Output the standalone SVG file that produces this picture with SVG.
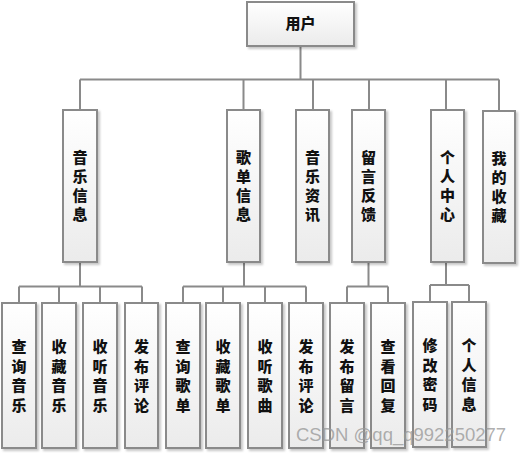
<svg xmlns="http://www.w3.org/2000/svg" width="521" height="453" viewBox="0 0 521 453">
<defs>
<linearGradient id="g" x1="0" y1="0" x2="0" y2="1">
<stop offset="0" stop-color="#ffffff"/>
<stop offset="1" stop-color="#ebebeb"/>
</linearGradient>
<filter id="sh" x="-20%" y="-20%" width="150%" height="150%">
<feDropShadow dx="2" dy="2" stdDeviation="1" flood-color="#000" flood-opacity="0.22"/>
</filter>
</defs>
<style>
.box{fill:url(#g);stroke:#8a8a8a;stroke-width:2;filter:url(#sh)}
.t{font-family:"Noto Sans CJK SC","Noto Sans CJK TC",sans-serif;font-weight:900;font-size:15px;fill:#111;text-anchor:middle}
.c{fill:none;stroke:#8a8a8a;stroke-width:2}
.wm{font-family:"Liberation Sans",Arial,sans-serif;font-size:18.5px;fill:#9a9a9a;fill-opacity:0.8}
</style>
<rect width="521" height="453" fill="#fff"/>
<g id="connectors" class="c">
<path d="M300.5 46V79.5M80 79.5H499M80 79.5V110M243.5 79.5V110M313 79.5V110M369 79.5V110M446 79.5V110M499 79.5V110"/>
<path d="M80 262V286.5M19 286.5H142M19 286.5V303M59 286.5V303M100 286.5V303M142 286.5V303"/>
<path d="M244 262V286.5M183 286.5H306M183 286.5V303M223 286.5V303M265 286.5V303M306 286.5V303"/>
<path d="M368.5 262V286.5M347 286.5H388M347 286.5V303M388 286.5V303"/>
<path d="M446 262V285M430 285H469M430 285V302M469 285V302"/>
</g>
<g id="root"><rect class="box" x="247" y="2" width="107" height="44"/><text class="t" x="300.5" y="29">用户</text></g>
<g id="n1"><rect class="box" x="63" y="110" width="34" height="152"/><text class="t"><tspan x="80" y="162.5">音</tspan><tspan x="80" dy="19.3">乐</tspan><tspan x="80" dy="19.3">信</tspan><tspan x="80" dy="19.3">息</tspan></text></g>
<g id="n2"><rect class="box" x="227" y="110" width="33" height="152"/><text class="t"><tspan x="243.5" y="162.5">歌</tspan><tspan x="243.5" dy="19.3">单</tspan><tspan x="243.5" dy="19.3">信</tspan><tspan x="243.5" dy="19.3">息</tspan></text></g>
<g id="n3"><rect class="box" x="296" y="110" width="33" height="152"/><text class="t"><tspan x="312.5" y="162.5">音</tspan><tspan x="312.5" dy="19.3">乐</tspan><tspan x="312.5" dy="19.3">资</tspan><tspan x="312.5" dy="19.3">讯</tspan></text></g>
<g id="n4"><rect class="box" x="352" y="110" width="33" height="152"/><text class="t"><tspan x="368.5" y="162.5">留</tspan><tspan x="368.5" dy="19.3">言</tspan><tspan x="368.5" dy="19.3">反</tspan><tspan x="368.5" dy="19.3">馈</tspan></text></g>
<g id="n5"><rect class="box" x="431" y="110" width="33" height="152"/><text class="t"><tspan x="447.5" y="162.5">个</tspan><tspan x="447.5" dy="19.3">人</tspan><tspan x="447.5" dy="19.3">中</tspan><tspan x="447.5" dy="19.3">心</tspan></text></g>
<g id="n6"><rect class="box" x="483" y="111" width="32" height="152"/><text class="t"><tspan x="499" y="163.5">我</tspan><tspan x="499" dy="19.3">的</tspan><tspan x="499" dy="19.3">收</tspan><tspan x="499" dy="19.3">藏</tspan></text></g>
<g id="m1"><rect class="box" x="2" y="303" width="34" height="145"/><text class="t"><tspan x="19" y="352">查</tspan><tspan x="19" dy="19.5">询</tspan><tspan x="19" dy="19.5">音</tspan><tspan x="19" dy="19.5">乐</tspan></text></g>
<g id="m2"><rect class="box" x="42" y="303" width="34" height="145"/><text class="t"><tspan x="59" y="352">收</tspan><tspan x="59" dy="19.5">藏</tspan><tspan x="59" dy="19.5">音</tspan><tspan x="59" dy="19.5">乐</tspan></text></g>
<g id="m3"><rect class="box" x="83" y="303" width="34" height="145"/><text class="t"><tspan x="100" y="352">收</tspan><tspan x="100" dy="19.5">听</tspan><tspan x="100" dy="19.5">音</tspan><tspan x="100" dy="19.5">乐</tspan></text></g>
<g id="m4"><rect class="box" x="125" y="303" width="33" height="145"/><text class="t"><tspan x="141.5" y="352">发</tspan><tspan x="141.5" dy="19.5">布</tspan><tspan x="141.5" dy="19.5">评</tspan><tspan x="141.5" dy="19.5">论</tspan></text></g>
<g id="m5"><rect class="box" x="166" y="303" width="34" height="145"/><text class="t"><tspan x="183" y="352">查</tspan><tspan x="183" dy="19.5">询</tspan><tspan x="183" dy="19.5">歌</tspan><tspan x="183" dy="19.5">单</tspan></text></g>
<g id="m6"><rect class="box" x="206" y="303" width="34" height="145"/><text class="t"><tspan x="223" y="352">收</tspan><tspan x="223" dy="19.5">藏</tspan><tspan x="223" dy="19.5">歌</tspan><tspan x="223" dy="19.5">单</tspan></text></g>
<g id="m7"><rect class="box" x="248" y="303" width="34" height="145"/><text class="t"><tspan x="265" y="352">收</tspan><tspan x="265" dy="19.5">听</tspan><tspan x="265" dy="19.5">歌</tspan><tspan x="265" dy="19.5">曲</tspan></text></g>
<g id="m8"><rect class="box" x="289" y="303" width="34" height="145"/><text class="t"><tspan x="306" y="352">发</tspan><tspan x="306" dy="19.5">布</tspan><tspan x="306" dy="19.5">评</tspan><tspan x="306" dy="19.5">论</tspan></text></g>
<g id="m9"><rect class="box" x="330" y="303" width="34" height="145"/><text class="t"><tspan x="347" y="352">发</tspan><tspan x="347" dy="19.5">布</tspan><tspan x="347" dy="19.5">留</tspan><tspan x="347" dy="19.5">言</tspan></text></g>
<g id="m10"><rect class="box" x="371" y="303" width="34" height="145"/><text class="t"><tspan x="388" y="352">查</tspan><tspan x="388" dy="19.5">看</tspan><tspan x="388" dy="19.5">回</tspan><tspan x="388" dy="19.5">复</tspan></text></g>
<g id="m11"><rect class="box" x="413" y="302" width="34" height="145"/><text class="t"><tspan x="430" y="351">修</tspan><tspan x="430" dy="19.5">改</tspan><tspan x="430" dy="19.5">密</tspan><tspan x="430" dy="19.5">码</tspan></text></g>
<g id="m12"><rect class="box" x="452" y="302" width="34" height="145"/><text class="t"><tspan x="469" y="351">个</tspan><tspan x="469" dy="19.5">人</tspan><tspan x="469" dy="19.5">信</tspan><tspan x="469" dy="19.5">息</tspan></text></g>
<text class="wm" x="296" y="441">CSDN @qq_q992250277</text>
</svg>
